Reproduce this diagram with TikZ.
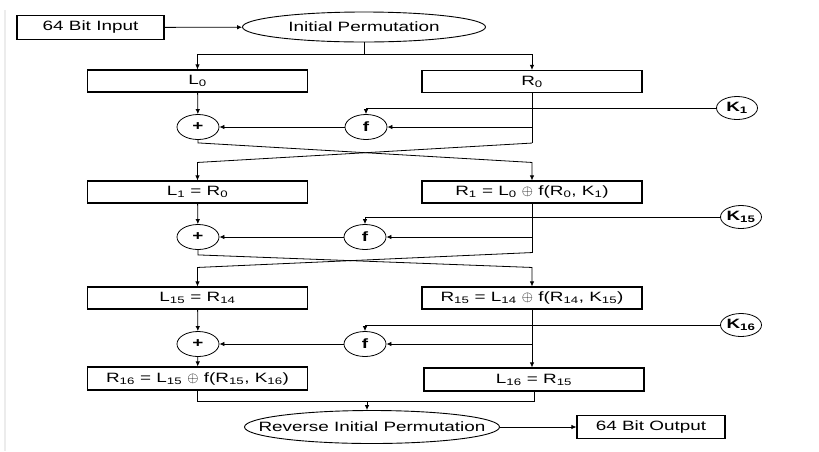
\documentclass[tikz,border=0pt]{standalone}
\usepackage{fontspec}
\setmainfont[FakeStretch=1.4]{Liberation Sans}
\usepackage{tikz}
\usetikzlibrary{shapes.geometric,arrows.meta}

\begin{document}
\begin{tikzpicture}[x=1pt,y=-1pt,
    font=\fontsize{13.5}{16}\selectfont,
    line width=0.8pt,
    flow/.style={-{Latex[length=5pt,width=4.5pt]}},
    block/.style={draw, line width=1.1pt, minimum width=220pt, minimum height=22pt, inner sep=0pt},
    iobox/.style={draw, line width=1.1pt, minimum width=147pt, minimum height=24pt, inner sep=0pt},
    permute/.style={ellipse, draw, line width=0.9pt, inner sep=0pt},
    opnode/.style={ellipse, draw, minimum width=42pt, minimum height=25pt, inner sep=0pt, font=\fontsize{13.5}{16}\selectfont\bfseries},
    keynode/.style={ellipse, draw, minimum width=41pt, minimum height=23pt, inner sep=0pt, font=\fontsize{13.5}{16}\selectfont\bfseries}]
    \useasboundingbox (0,0) rectangle (819,451);
    % page edge
    \draw[gray!15, line width=1.2pt] (5,10) -- (5,451);

    % Input and initial permutation
    \node[iobox] (inbox) at (90.5,27.5) {64 Bit Input};
    \node[permute, minimum width=243pt, minimum height=30pt,
          label=center:{Initial Permutation}] (ip) at (364,27) {};

    % Round 1
    \node[block] (L0) at (197.5,81) {L\textsubscript{0}};
    \node[block] (R0) at (532,81.5) {R\textsubscript{0}};
    \node[opnode] (plus1) at (198,127) {+};
    \node[opnode] (f1) at (366,127) {f};
    \node[keynode] (K1) at (737,108) {K\textsubscript{1}};

    % Round 2
    \node[block] (L1) at (197.5,192) {L\textsubscript{1} = R\textsubscript{0}};
    \node[block] (R1) at (532,192) {R\textsubscript{1} = L\textsubscript{0} $\oplus$ f(R\textsubscript{0}, K\textsubscript{1})};
    \node[opnode] (plus2) at (198,237) {+};
    \node[opnode] (f2) at (365,237) {f};
    \node[keynode] (K15) at (741,217) {K\textsubscript{15}};

    % Round 16
    \node[block] (L15) at (197.5,298) {L\textsubscript{15} = R\textsubscript{14}};
    \node[block] (R15) at (532,298) {R\textsubscript{15} = L\textsubscript{14} $\oplus$ f(R\textsubscript{14}, K\textsubscript{15})};
    \node[opnode] (plus3) at (198,344) {+};
    \node[opnode] (f3) at (365,344) {f};
    \node[keynode] (K16) at (741,325) {K\textsubscript{16}};
    \node[block, minimum height=23pt] (R16) at (197.5,378.5) {R\textsubscript{16} = L\textsubscript{15} $\oplus$ f(R\textsubscript{15}, K\textsubscript{16})};
    \node[block, minimum height=23pt] (L16) at (534,379.5) {L\textsubscript{16} = R\textsubscript{15}};

    % Reverse permutation and output
    \node[permute, minimum width=255pt, minimum height=33pt,
          label=center:{Reverse Initial Permutation}] (rip) at (372,427) {};
    \node[iobox, minimum width=148pt, minimum height=23pt] (outbox) at (651,427) {64 Bit Output};

    % Connectors: input
    \draw[flow] (inbox) -- (ip);
    \draw (ip.south) -- ++(0,12) coordinate (ipsplit);
    \draw[flow] (ipsplit) -| (L0.north);
    \draw[flow] (ipsplit) -| (R0.north);

    % Connectors: round 1
    \draw[flow] (L0) -- (plus1);
    \draw (R0.south) -- ++(0,50) coordinate (r0end);
    \draw[flow] (R0.south |- f1) -- (f1);
    \draw[flow] (f1) -- (plus1);
    \draw[flow] (K1) -| (f1);
    \draw[flow] (plus1.south) -- ++(0,3) -- ([yshift=18pt]R1.north) -- (R1.north);
    \draw[flow] (r0end) -- ([yshift=18pt]L1.north) -- (L1.north);

    % Connectors: round 2
    \draw[flow] (L1) -- (plus2);
    \draw (R1.south) -- ++(0,49) coordinate (r1end);
    \draw[flow] (R1.south |- f2) -- (f2);
    \draw[flow] (f2) -- (plus2);
    \draw[flow] (K15) -| (f2);
    \draw[flow] (plus2.south) -- ++(0,5) -- ([yshift=19pt]R15.north) -- (R15.north);
    \draw[flow] (r1end) -- ([yshift=19pt]L15.north) -- (L15.north);

    % Connectors: round 16
    \draw[flow] (L15) -- (plus3);
    \draw[flow] (R15.south) -- (R15.south |- L16.north);
    \draw[flow] (R15.south |- f3) -- (f3);
    \draw[flow] (f3) -- (plus3);
    \draw[flow] (K16) -| (f3);
    \draw[flow] (plus3) -- (R16);

    % Connectors: output
    \coordinate (join) at (367,401);
    \draw (R16.south) |- (join) -| (L16.south);
    \draw[flow] (join) -- (join |- rip.north);
    \draw[flow] (rip.east) -- (outbox.west);
\end{tikzpicture}
\end{document}
